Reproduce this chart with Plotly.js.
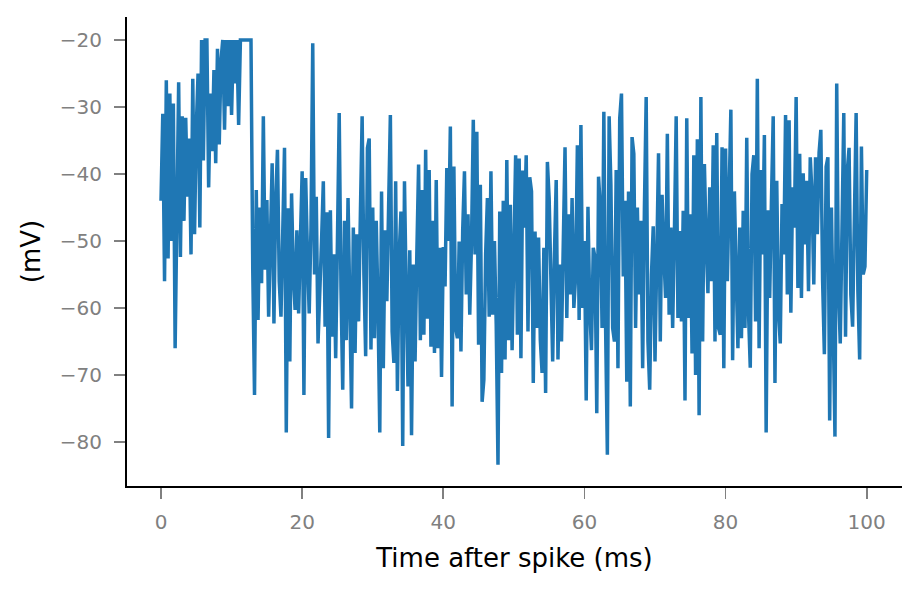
<!DOCTYPE html>
<html>
<head>
<meta charset="utf-8">
<script src="https://cdn.plot.ly/plotly-3.0.1.min.js"></script>
<style>
  html, body { margin: 0; padding: 0; background: #ffffff; }
  #chart { width: 921px; height: 592px; }
</style>
</head>
<body>
<div id="chart"></div>
<script>
// Sampling of the trace (ms)
const startMs = 0;
const sampleStepMs = 0.25;

// Membrane potential (mV), in consecutive chunks
const vEarly = [ // 0 – 12.75 ms
  -44, -31, -56, -26, -52.6, -28, -50, -29.5, -66, -40,
  -26.3, -52.4, -31.4, -47, -31.6, -43.4, -34.7, -52, -25.8, -49,
  -33, -25, -48, -20, -38, -20, -20, -42, -28, -36.6,
  -24.5, -38.4, -21.3, -35.6, -23, -20, -33.4, -20, -29.9, -20,
  -31.2, -20, -26.5, -20, -32.7, -20, -20, -20, -20, -20,
  -20, -20
];
const vSeg2 = [ // 13 – 32.5 ms
  -54.3, -73, -42.4, -61.8, -45, -56.3, -31.4, -54.3, -43.9, -61.3,
  -50, -38.4, -62.3, -44, -36.4, -56, -61.3, -45, -36.1, -78.6,
  -45.1, -68, -42.9, -55, -60.3, -48.4, -60.8, -50, -39.6, -73,
  -40.6, -52, -60.8, -48, -20.5, -55, -43.4, -65.3, -58.8, -50,
  -41.1, -62.8, -45.7, -79.4, -45.4, -64.3, -52, -67.5, -50, -30.9,
  -57, -72.2, -47, -64.8, -43.6, -58, -75, -48, -66.7, -49,
  -62, -46, -31.4, -55, -67.2, -36.1, -34.7, -66.2, -45, -64.5,
  -47, -60, -78.6, -42.6, -69, -48.4, -59, -45, -31.2
];
const vSeg3 = [ // 32.75 – 49.5 ms
  -63.5, -68.2, -41.1, -72.4, -52, -45.6, -80.6, -41.1, -58, -71.7,
  -51.4, -79, -53.5, -68, -52, -38.6, -64.8, -42.4, -64, -36.4,
  -61.6, -39.4, -65.8, -47, -66.7, -40.9, -66, -51, -70.3, -50.9,
  -56.8, -39.1, -50, -32.9, -74.7, -38.9, -63, -64.5, -50.1, -66.5,
  -48.4, -39.6, -58, -46, -61, -50, -31.9, -52, -33.7, -65.5,
  -41.6, -74, -70.7, -52, -43.6, -61.3, -39.6, -61, -50, -62.5,
  -83.4, -45.6, -69.7, -44, -67.7, -37.9, -64.8, -44.6
];
const vSeg4 = [ // 49.75 – 66.25 ms
  -66.3, -52, -37.2, -64, -37.7, -67.5, -39.5, -48, -37.2, -63.5,
  -40.5, -42.6, -71.2, -48.6, -63, -49.5, -64.8, -69.7, -51, -72.7,
  -38.2, -43.6, -59, -68, -52, -40.9, -67.7, -53.5, -65, -50,
  -36, -61.5, -46, -58, -43.6, -60, -55.3, -35.7, -61.8, -32.7,
  -60, -50, -73.8, -44.9, -60, -66.3, -51, -52.5, -75.7, -40.4,
  -45, -63, -30.7, -63, -81.9, -31.4, -41.6, -63, -65, -39.4,
  -69, -31.7, -28, -55.3, -44, -71, -42.6
];
const vSeg5 = [ // 66.5 – 83 ms
  -74.7, -34.5, -37, -63, -45, -58, -47, -69, -45, -28.5,
  -65, -72.2, -55, -47.8, -68, -50, -36.9, -65, -43.1, -52,
  -58.5, -34, -61, -48, -63, -48.8, -31.4, -61.5, -48.5, -62,
  -45.5, -73.8, -31.7, -61.5, -46, -66.8, -37.2, -70, -34.8, -76,
  -28.5, -65, -38.5, -50, -57.8, -42, -56, -35.7, -65, -33.9,
  -63, -64, -36, -69, -36.2, -56, -41.4, -30.4, -67.8, -42.6,
  -55, -66, -48, -64.5, -45.5, -63, -34.6
];
const vSeg6 = [ // 83.25 – 100 ms
  -60.7, -68.9, -40, -37.2, -62, -25.8, -66, -39.4, -52, -34.2,
  -78.6, -45.4, -58.5, -44, -31.4, -71.2, -41, -60.5, -65.3, -44.5,
  -52, -31.2, -58, -32, -60.7, -42, -48, -28.5, -57, -37,
  -58.5, -39.9, -50.5, -41, -57.5, -37.5, -43, -56.5, -37.5, -49,
  -36.8, -33.4, -56, -66.9, -38.9, -37.5, -76.8, -45, -61.5, -79.2,
  -26.5, -57, -65.3, -45, -30.9, -64.3, -39.5, -36.1, -58, -62.8,
  -45, -30.9, -57.5, -67.7, -35.9, -55, -53.8, -39.4
];

const xTickVals = [0, 20, 40, 60, 80, 100];
const yTickVals = [-80, -70, -60, -50, -40, -30, -20];

const voltage = [].concat(vEarly, vSeg2, vSeg3, vSeg4, vSeg5, vSeg6);

const trace = {
  type: 'scatter',
  mode: 'lines',
  x0: startMs,
  dx: sampleStepMs,
  y: voltage,
  line: { color: '#1f77b4', width: 3.5, shape: 'linear' },
  hoverinfo: 'skip',
  showlegend: false
};

const tickFont = { family: 'DejaVu Sans', size: 20, color: '#808080' };
const titleFont = { family: 'DejaVu Sans', size: 26, color: '#000000' };

const layout = {
  width: 921,
  height: 592,
  margin: { l: 127, r: 19, t: 17, b: 106 },
  paper_bgcolor: '#ffffff',
  plot_bgcolor: '#ffffff',
  showlegend: false,
  xaxis: {
    range: [-4.82, 105.0],
    tickvals: xTickVals,
    ticktext: xTickVals.map(String),
    ticks: 'outside',
    ticklen: 11,
    tickwidth: 1.6,
    tickcolor: '#808080',
    tickfont: tickFont,
    ticklabelstandoff: 6,
    showgrid: false,
    zeroline: false,
    showline: true,
    linecolor: '#000000',
    linewidth: 2,
    mirror: false,
    title: { text: 'Time after spike (ms)', font: titleFont, standoff: 16 },
    automargin: false
  },
  yaxis: {
    range: [-86.57, -16.57],
    tickvals: yTickVals,
    ticks: 'outside',
    ticklen: 11,
    tickwidth: 1.6,
    tickcolor: '#808080',
    tickfont: tickFont,
    ticklabelstandoff: 8,
    showgrid: false,
    zeroline: false,
    showline: true,
    linecolor: '#000000',
    linewidth: 2,
    mirror: false,
    title: { text: '(mV)', font: titleFont, standoff: 12 },
    automargin: false
  }
};

Plotly.newPlot('chart', [trace], layout, { staticPlot: true, displayModeBar: false });
</script>
</body>
</html>
